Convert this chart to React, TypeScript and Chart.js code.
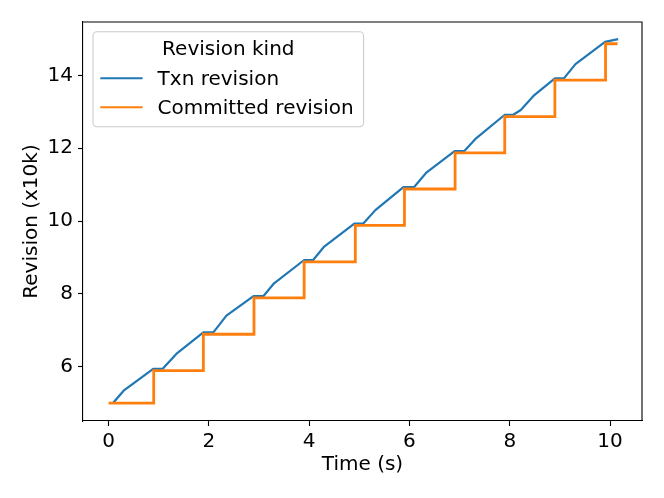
import { useEffect, useRef } from "react";
import Chart from "chart.js/auto";

// Txn revision (blue) samples: time in seconds, revision in units of 10k
const txnTimes = [
  0.1, 0.3, 0.89, 1.08, 1.35, 1.89, 2.09, 2.35, 2.89, 3.09, 3.3, 3.9, 4.08, 4.3,
  4.9, 5.08, 5.32, 5.88, 6.09, 6.33, 6.9, 7.09, 7.31, 7.9, 8.07, 8.22, 8.49, 8.9,
  9.08, 9.31, 9.9, 10.14,
];
const txnRevisions = [
  5.02, 5.34, 5.94, 5.94, 6.35, 6.94, 6.94, 7.4, 7.94, 7.94, 8.29, 8.93, 8.93, 9.3,
  9.93, 9.93, 10.3, 10.93, 10.93, 11.32, 11.92, 11.92, 12.25, 12.92, 12.92, 13.05,
  13.46, 13.92, 13.92, 14.31, 14.92, 14.99,
];

// Committed revision (orange, stepped)
const committedTimes = [0, 0.9, 1.89, 2.9, 3.9, 4.92, 5.9, 6.91, 7.9, 8.9, 9.91, 10.15];
const committedRevisions = [
  5.0, 5.89, 6.89, 7.89, 8.88, 9.88, 10.88, 11.87, 12.87, 13.87, 14.87, 14.87,
];

const xTicks = [0, 2, 4, 6, 8, 10];
const yTicks = [6, 8, 10, 12, 14];
const seriesNames = ["Txn revision", "Committed revision"];
const seriesColors = ["#1f77b4", "#ff7f0e"];
const legendTitle = "Revision kind";
const xTitle = "Time (s)";
const yTitle = "Revision (x10k)";

const FAMILY = "'DejaVu Sans', sans-serif";
const FS = 20;

export default function App() {
  const ref = useRef<HTMLCanvasElement>(null);

  useEffect(() => {
    document.body.style.margin = "0";
    const canvas = ref.current!;

    const framePlugin = {
      id: "frameAndLegend",
      afterDraw(chart: any) {
        const { ctx, chartArea } = chart;
        const { left, top, right, bottom } = chartArea;
        ctx.save();
        // top & right spines
        ctx.strokeStyle = "#000";
        ctx.lineWidth = 1.1;
        ctx.beginPath();
        ctx.moveTo(left, top);
        ctx.lineTo(right, top);
        ctx.lineTo(right, bottom);
        ctx.stroke();

        // legend
        const lx = left + 10;
        const ly = top + 9.7;
        const lw = 270.6;
        const lh = 95;
        const r = 4;
        ctx.beginPath();
        ctx.moveTo(lx + r, ly);
        ctx.lineTo(lx + lw - r, ly);
        ctx.arcTo(lx + lw, ly, lx + lw, ly + r, r);
        ctx.lineTo(lx + lw, ly + lh - r);
        ctx.arcTo(lx + lw, ly + lh, lx + lw - r, ly + lh, r);
        ctx.lineTo(lx + r, ly + lh);
        ctx.arcTo(lx, ly + lh, lx, ly + lh - r, r);
        ctx.lineTo(lx, ly + r);
        ctx.arcTo(lx, ly, lx + r, ly, r);
        ctx.closePath();
        ctx.fillStyle = "rgba(255,255,255,0.8)";
        ctx.fill();
        ctx.strokeStyle = "#cccccc";
        ctx.lineWidth = 1.1;
        ctx.stroke();

        ctx.font = `${FS}px ${FAMILY}`;
        ctx.fillStyle = "#000";
        ctx.textBaseline = "middle";
        ctx.textAlign = "center";
        ctx.fillText(legendTitle, lx + lw / 2, ly + 18);

        const rowsY = [ly + 46.6, ly + 75.6];
        ctx.textAlign = "left";
        seriesNames.forEach((name, i) => {
          ctx.strokeStyle = seriesColors[i];
          ctx.lineWidth = 2.1;
          ctx.beginPath();
          ctx.moveTo(lx + 7.3, rowsY[i]);
          ctx.lineTo(lx + 49.6, rowsY[i]);
          ctx.stroke();
          ctx.fillStyle = "#000";
          ctx.fillText(name, lx + 64.6, rowsY[i] + 1.5);
        });
        ctx.restore();
      },
    };

    const tickFont = { family: FAMILY, size: FS };

    const chart = new Chart(canvas, {
      type: "line",
      data: {
        datasets: [
          {
            label: seriesNames[1],
            data: committedTimes.map((t, i) => ({ x: t, y: committedRevisions[i] })),
            borderColor: seriesColors[1],
            backgroundColor: seriesColors[1],
            borderWidth: 2.8,
            pointRadius: 0,
            stepped: "before",
            borderJoinStyle: "miter",
            order: 0,
          },
          {
            label: seriesNames[0],
            data: txnTimes.map((t, i) => ({ x: t, y: txnRevisions[i] })),
            borderColor: seriesColors[0],
            backgroundColor: seriesColors[0],
            borderWidth: 2.2,
            pointRadius: 0,
            tension: 0,
            borderJoinStyle: "round",
            borderCapStyle: "square",
            order: 1,
          },
        ],
      },
      options: {
        animation: false,
        responsive: false,
        maintainAspectRatio: false,
        layout: { padding: { top: 22, right: 22, left: 0, bottom: 0 } },
        plugins: {
          legend: { display: false },
          tooltip: { enabled: false },
        },
        scales: {
          x: {
            type: "linear",
            min: -0.51,
            max: 10.637,
            afterBuildTicks: (s: any) => {
              s.ticks = xTicks.map((v) => ({ value: v }));
            },
            afterFit: (s: any) => {
              s.height = 77;
            },
            ticks: {
              font: tickFont,
              color: "#000",
              padding: 4,
              maxRotation: 0,
              autoSkip: false,
              callback: (v: any) => String(v),
            },
            grid: {
              drawOnChartArea: false,
              tickLength: 5,
              tickColor: "#000",
              tickWidth: 1.1,
            },
            border: { color: "#000", width: 1.1 },
            title: {
              display: true,
              text: xTitle,
              font: tickFont,
              color: "#000",
              padding: { top: 0, bottom: 21 },
            },
          },
          y: {
            type: "linear",
            min: 4.507,
            max: 15.468,
            afterBuildTicks: (s: any) => {
              s.ticks = yTicks.map((v) => ({ value: v }));
            },
            afterFit: (s: any) => {
              s.width = 83;
            },
            ticks: {
              font: tickFont,
              color: "#000",
              padding: 5,
              autoSkip: false,
              callback: (v: any) => String(v),
            },
            grid: {
              drawOnChartArea: false,
              tickLength: 5,
              tickColor: "#000",
              tickWidth: 1.1,
            },
            border: { color: "#000", width: 1.1 },
            title: {
              display: true,
              text: yTitle,
              font: tickFont,
              color: "#000",
              padding: { top: 19.5, bottom: 0 },
            },
          },
        },
      },
      plugins: [framePlugin],
    } as any);

    return () => chart.destroy();
  }, []);

  return (
    <div style={{ width: 664, height: 498, position: "relative", background: "#fff" }}>
      <canvas ref={ref} width={664} height={498} style={{ width: 664, height: 498, display: "block" }} />
    </div>
  );
}
